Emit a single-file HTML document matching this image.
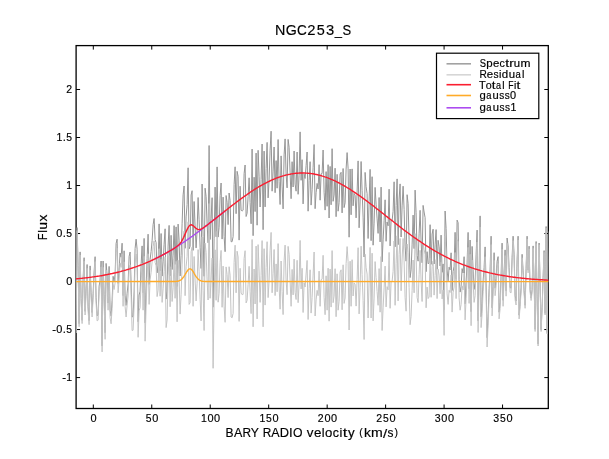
<!DOCTYPE html>
<html><head><meta charset="utf-8"><style>
html,body{margin:0;padding:0;background:#fff;width:609px;height:459px;overflow:hidden}
svg{display:block;will-change:transform}
text{font-family:"Liberation Sans",sans-serif;fill:#000;stroke:#000;stroke-width:0.16}
</style></head><body>
<svg width="609" height="459" viewBox="0 0 609 459">
<defs><clipPath id="c"><rect x="76.1" y="45.6" width="472.2" height="362.9"/></clipPath></defs>
<path d="M93.30,408.50v-4M93.30,45.60v4M151.76,408.50v-4M151.76,45.60v4M210.23,408.50v-4M210.23,45.60v4M268.69,408.50v-4M268.69,45.60v4M327.16,408.50v-4M327.16,45.60v4M385.62,408.50v-4M385.62,45.60v4M444.09,408.50v-4M444.09,45.60v4M502.56,408.50v-4M502.56,45.60v4M76.10,377.58h4M548.30,377.58h-4M76.10,329.56h4M548.30,329.56h-4M76.10,281.55h4M548.30,281.55h-4M76.10,233.54h4M548.30,233.54h-4M76.10,185.52h4M548.30,185.52h-4M76.10,137.50h4M548.30,137.50h-4M76.10,89.49h4M548.30,89.49h-4" stroke="#000" stroke-width="1" fill="none"/>
<rect x="76.1" y="45.6" width="472.2" height="362.9" fill="none" stroke="#000" stroke-width="1.3"/>
<g clip-path="url(#c)" fill="none" stroke-linejoin="round">
<path d="M73.1,279.1 74.1,287.7 75.1,319.0 76.1,330.3 77.1,227.6 78.1,265.5 79.1,323.7 80.1,251.9 81.1,298.5 82.1,320.3 83.1,278.5 84.1,257.7 85.1,311.4 86.1,288.1 87.1,264.5 88.1,306.9 89.1,320.6 90.1,265.9 91.1,292.8 92.1,312.5 93.1,293.3 94.1,272.1 95.1,256.7 96.1,297.5 97.1,315.7 98.1,314.8 99.1,286.1 100.1,280.1 101.1,261.0 102.1,345.9 103.1,261.0 104.1,294.2 105.1,332.7 106.1,263.4 107.1,274.5 108.1,303.0 109.1,266.4 110.1,310.2 111.1,316.0 112.1,300.3 113.1,276.3 114.1,281.1 115.1,274.2 116.1,243.4 117.1,239.2 118.1,283.4 119.1,270.4 120.1,253.0 121.1,257.2 122.1,243.2 123.1,295.6 124.1,250.8 125.1,295.2 126.1,305.4 127.1,293.3 128.1,283.8 129.1,256.4 130.1,252.0 131.1,282.3 132.1,317.0 133.1,316.4 134.1,291.9 135.1,248.5 136.1,239.2 137.1,249.2 138.1,321.8 139.1,295.0 140.1,291.2 141.1,264.9 142.1,245.9 143.1,292.7 144.1,238.4 145.1,322.9 146.1,288.2 147.1,258.4 148.1,234.2 149.1,284.4 150.1,259.4 151.1,251.6 152.1,240.7 153.1,224.7 154.1,218.5 155.1,239.6 156.1,242.6 157.1,272.9 158.1,265.8 159.1,223.9 160.1,271.0 161.1,233.5 162.1,276.1 163.1,261.9 164.1,244.2 165.1,228.8 166.1,299.1 167.1,291.0 168.1,246.1 169.1,225.4 170.1,276.0 171.1,235.3 172.1,269.5 173.1,255.1 174.1,225.6 175.1,264.4 176.1,226.9 177.1,286.5 178.1,224.1 179.1,240.2 180.1,276.0 181.1,255.3 182.1,223.8 183.1,194.9 184.1,186.0 185.1,248.3 186.1,216.9 187.1,204.5 188.1,167.8 189.1,248.9 190.1,246.3 191.1,195.0 192.1,190.7 193.1,250.4 194.1,201.5 195.1,226.0 196.1,247.9 197.1,230.8 198.1,197.5 199.1,219.8 200.1,247.2 201.1,268.5 202.1,184.0 203.1,236.5 204.1,276.3 205.1,188.2 206.1,196.6 207.1,224.2 208.1,242.8 209.1,145.5 210.1,239.5 211.1,218.5 212.1,197.7 213.1,307.2 214.1,238.2 215.1,187.1 216.1,236.8 217.1,166.9 218.1,237.1 219.1,227.3 220.1,195.6 221.1,183.0 222.1,239.1 223.1,197.1 224.1,236.3 225.1,251.7 226.1,195.5 227.1,202.4 228.1,224.6 229.1,193.0 230.1,200.6 231.1,241.7 232.1,241.7 233.1,236.7 234.1,184.7 235.1,166.8 236.1,213.7 237.1,171.3 238.1,176.3 239.1,240.1 240.1,186.2 241.1,210.2 242.1,211.1 243.1,210.2 244.1,173.6 245.1,165.0 246.1,216.5 247.1,213.3 248.1,196.5 249.1,177.8 250.1,202.6 251.1,223.8 252.1,149.1 253.1,235.7 254.1,177.2 255.1,211.6 256.1,153.1 257.1,225.2 258.1,150.3 259.1,176.2 260.1,207.0 261.1,179.5 262.1,144.0 263.1,229.7 264.1,151.1 265.1,206.9 266.1,168.5 267.1,142.4 268.1,197.9 269.1,180.3 270.1,150.2 271.1,131.2 272.1,191.2 273.1,171.1 274.1,147.0 275.1,192.7 276.1,160.6 277.1,188.2 278.1,139.5 279.1,181.7 280.1,204.5 281.1,155.9 282.1,186.1 283.1,208.9 284.1,154.9 285.1,138.9 286.1,174.4 287.1,187.9 288.1,139.4 289.1,147.2 290.1,172.9 291.1,198.7 292.1,161.7 293.1,187.0 294.1,151.0 295.1,184.1 296.1,191.2 297.1,152.0 298.1,194.3 299.1,175.7 300.1,131.9 301.1,180.3 302.1,159.7 303.1,203.9 304.1,174.1 305.1,178.5 306.1,165.6 307.1,152.0 308.1,211.2 309.1,180.5 310.1,161.7 311.1,205.1 312.1,189.7 313.1,167.3 314.1,144.5 315.1,208.7 316.1,192.8 317.1,183.4 318.1,189.0 319.1,164.7 320.1,200.2 321.1,173.8 322.1,173.5 323.1,150.0 324.1,192.2 325.1,210.1 326.1,171.6 327.1,206.3 328.1,164.7 329.1,218.0 330.1,166.4 331.1,204.8 332.1,148.7 333.1,201.3 334.1,195.1 335.1,168.2 336.1,216.7 337.1,174.3 338.1,211.2 339.1,202.7 340.1,174.0 341.1,172.3 342.1,212.9 343.1,168.5 344.1,207.6 345.1,202.8 346.1,169.1 347.1,152.6 348.1,168.2 349.1,237.2 350.1,169.0 351.1,214.8 352.1,168.9 353.1,205.8 354.1,193.4 355.1,195.3 356.1,217.9 357.1,192.1 358.1,160.9 359.1,227.8 360.1,201.9 361.1,161.5 362.1,190.7 363.1,217.1 364.1,257.0 365.1,172.4 366.1,186.7 367.1,193.7 368.1,238.5 369.1,201.5 370.1,169.4 371.1,240.7 372.1,176.7 373.1,245.2 374.1,223.1 375.1,187.4 376.1,204.2 377.1,218.9 378.1,233.4 379.1,197.5 380.1,241.9 381.1,187.1 382.1,261.8 383.1,239.9 384.1,220.8 385.1,199.8 386.1,241.3 387.1,222.0 388.1,225.8 389.1,189.2 390.1,245.9 391.1,220.3 392.1,220.5 393.1,211.3 394.1,181.8 395.1,246.8 396.1,205.5 397.1,178.9 398.1,244.7 399.1,199.1 400.1,183.9 401.1,237.0 402.1,205.9 403.1,186.2 404.1,209.3 405.1,246.9 406.1,261.2 407.1,194.7 408.1,203.7 409.1,239.8 410.1,277.6 411.1,269.9 412.1,244.9 413.1,215.1 414.1,248.6 415.1,190.1 416.1,212.8 417.1,255.4 418.1,261.2 419.1,233.8 420.1,210.3 421.1,241.8 422.1,262.8 423.1,205.4 424.1,212.0 425.1,217.7 426.1,271.7 427.1,251.7 428.1,263.8 429.1,262.9 430.1,224.7 431.1,264.4 432.1,234.0 433.1,229.2 434.1,264.0 435.1,244.9 436.1,229.6 437.1,269.2 438.1,240.3 439.1,246.8 440.1,266.0 441.1,235.1 442.1,272.3 443.1,263.9 444.1,309.8 445.1,211.0 446.1,228.4 447.1,269.9 448.1,280.9 449.1,267.2 450.1,269.9 451.1,252.8 452.1,290.5 453.1,271.4 454.1,266.3 455.1,232.3 456.1,278.8 457.1,220.1 458.1,222.6 459.1,279.3 460.1,292.1 461.1,286.7 462.1,268.6 463.1,273.0 464.1,256.7 465.1,303.8 466.1,282.7 467.1,262.7 468.1,232.4 469.1,288.7 470.1,240.0 471.1,311.7 472.1,246.4 473.1,269.5 474.1,289.4 475.1,283.1 476.1,254.9 477.1,230.1 478.1,320.8 479.1,270.7 480.1,215.9 481.1,316.7 482.1,303.1 483.1,281.2 484.1,267.7 485.1,246.9 486.1,283.6 487.1,337.7 488.1,316.1 489.1,288.5 490.1,269.3 491.1,236.2 492.1,307.8 493.1,286.3 494.1,252.7 495.1,288.2 496.1,278.5 497.1,261.2 498.1,256.6 499.1,312.2 500.1,302.3 501.1,274.7 502.1,243.1 503.1,300.3 504.1,271.0 505.1,249.9 506.1,290.8 507.1,238.0 508.1,245.9 509.1,267.7 510.1,287.6 511.1,288.1 512.1,257.3 513.1,236.2 514.1,254.8 515.1,295.6 516.1,301.0 517.1,259.7 518.1,236.2 519.1,315.2 520.1,303.0 521.1,287.6 522.1,254.3 523.1,270.2 524.1,290.3 525.1,305.3 526.1,268.4 527.1,236.2 528.1,270.2 529.1,246.2 530.1,289.5 531.1,298.0 532.1,289.7 533.1,245.9 534.1,280.5 535.1,329.3 536.1,241.5 537.1,296.8 538.1,344.0 539.1,243.0 540.1,282.6 541.1,329.7 542.1,307.3 543.1,277.7 544.1,250.6 545.1,313.4 546.1,226.5 547.1,332.5 548.1,279.0 549.1,231.0 550.1,264.3 551.1,280.3" stroke="#969696" stroke-width="1"/>
<path d="M73.1,281.6 74.1,290.3 75.1,321.6 76.1,333.0 77.1,230.5 78.1,268.4 79.1,326.7 80.1,255.0 81.1,301.6 82.1,323.6 83.1,281.9 84.1,261.2 85.1,315.0 86.1,291.9 87.1,268.3 88.1,310.9 89.1,324.7 90.1,270.1 91.1,297.2 92.1,317.0 93.1,297.9 94.1,276.9 95.1,261.6 96.1,302.6 97.1,320.9 98.1,320.2 99.1,291.6 100.1,285.8 101.1,266.9 102.1,351.9 103.1,267.3 104.1,300.6 105.1,339.3 106.1,270.2 107.1,281.4 108.1,310.2 109.1,273.8 110.1,317.8 111.1,323.8 112.1,308.3 113.1,284.5 114.1,289.5 115.1,282.9 116.1,252.3 117.1,248.4 118.1,292.8 119.1,280.1 120.1,262.9 121.1,267.4 122.1,253.7 123.1,306.3 124.1,261.8 125.1,306.5 126.1,317.0 127.1,305.2 128.1,296.0 129.1,268.9 130.1,264.8 131.1,295.4 132.1,330.5 133.1,330.2 134.1,306.0 135.1,262.9 136.1,254.0 137.1,264.4 138.1,337.3 139.1,310.9 140.1,307.5 141.1,281.6 142.1,263.0 143.1,310.2 144.1,256.3 145.1,341.2 146.1,306.9 147.1,277.5 148.1,253.8 149.1,304.4 150.1,279.8 151.1,272.5 152.1,262.1 153.1,246.5 154.1,240.8 155.1,262.4 156.1,265.8 157.1,296.6 158.1,290.1 159.1,248.7 160.1,296.2 161.1,259.3 162.1,302.4 163.1,288.8 164.1,271.6 165.1,256.8 166.1,327.6 167.1,320.0 168.1,275.8 169.1,255.6 170.1,306.8 171.1,266.7 172.1,301.5 173.1,287.6 174.1,258.8 175.1,298.3 176.1,261.4 177.1,321.8 178.1,260.2 179.1,277.2 180.1,314.1 181.1,294.8 182.1,264.9 183.1,237.8 184.1,231.1 185.1,295.7 186.1,266.7 187.1,256.5 188.1,221.8 189.1,304.4 190.1,302.8 191.1,251.7 192.1,247.2 193.1,306.3 194.1,256.5 195.1,280.0 196.1,301.0 197.1,283.2 198.1,249.6 199.1,271.7 200.1,299.3 201.1,320.9 202.1,236.9 203.1,290.1 204.1,330.5 205.1,243.1 206.1,252.3 207.1,280.7 208.1,300.0 209.1,203.5 210.1,298.3 211.1,278.0 212.1,258.1 213.1,368.3 214.1,300.2 215.1,249.8 216.1,300.3 217.1,231.2 218.1,302.2 219.1,293.2 220.1,262.3 221.1,250.4 222.1,307.3 223.1,266.1 224.1,306.1 225.1,322.3 226.1,266.9 227.1,274.6 228.1,297.6 229.1,266.7 230.1,275.1 231.1,317.0 232.1,317.8 233.1,313.5 234.1,262.3 235.1,245.2 236.1,292.8 237.1,251.2 238.1,257.0 239.1,321.4 240.1,268.3 241.1,293.0 242.1,294.7 243.1,294.4 244.1,258.6 245.1,250.7 246.1,302.9 247.1,300.4 248.1,284.3 249.1,266.3 250.1,291.8 251.1,313.6 252.1,239.5 253.1,326.8 254.1,269.0 255.1,304.0 256.1,246.1 257.1,318.9 258.1,244.6 259.1,271.1 260.1,302.4 261.1,275.5 262.1,240.6 263.1,326.8 264.1,248.7 265.1,305.1 266.1,267.3 267.1,241.7 268.1,297.6 269.1,280.5 270.1,250.9 271.1,232.4 272.1,292.8 273.1,273.2 274.1,249.5 275.1,295.6 276.1,263.9 277.1,291.8 278.1,243.6 279.1,286.1 280.1,309.2 281.1,261.0 282.1,291.5 283.1,314.6 284.1,260.9 285.1,245.1 286.1,280.9 287.1,294.7 288.1,246.4 289.1,254.4 290.1,280.3 291.1,306.3 292.1,269.4 293.1,294.9 294.1,259.1 295.1,292.2 296.1,299.5 297.1,260.3 298.1,302.7 299.1,284.1 300.1,240.4 301.1,288.9 302.1,268.3 303.1,312.5 304.1,282.7 305.1,287.0 306.1,274.0 307.1,260.4 308.1,319.5 309.1,288.7 310.1,269.8 311.1,313.1 312.1,297.6 313.1,275.0 314.1,252.0 315.1,316.0 316.1,299.9 317.1,290.3 318.1,295.7 319.1,271.1 320.1,306.3 321.1,279.7 322.1,279.1 323.1,255.3 324.1,297.2 325.1,314.7 326.1,275.8 327.1,310.2 328.1,268.2 329.1,321.2 330.1,269.1 331.1,307.1 332.1,250.6 333.1,302.7 334.1,296.1 335.1,268.7 336.1,316.7 337.1,273.8 338.1,310.2 339.1,301.2 340.1,272.0 341.1,269.8 342.1,309.8 343.1,264.8 344.1,303.4 345.1,298.0 346.1,263.7 347.1,246.6 348.1,261.6 349.1,330.0 350.1,261.2 351.1,306.3 352.1,259.7 353.1,296.0 354.1,282.9 355.1,284.2 356.1,306.1 357.1,279.6 358.1,247.7 359.1,313.9 360.1,287.3 361.1,246.2 362.1,274.6 363.1,300.4 364.1,339.5 365.1,254.2 366.1,267.8 367.1,274.0 368.1,318.0 369.1,280.3 370.1,247.4 371.1,318.0 372.1,253.2 373.1,320.9 374.1,298.1 375.1,261.6 376.1,277.6 377.1,291.6 378.1,305.3 379.1,268.6 380.1,312.2 381.1,256.6 382.1,330.5 383.1,307.8 384.1,287.9 385.1,266.1 386.1,306.9 387.1,286.7 388.1,289.8 389.1,252.4 390.1,308.3 391.1,281.9 392.1,281.3 393.1,271.4 394.1,241.0 395.1,305.3 396.1,263.2 397.1,235.8 398.1,300.9 399.1,254.5 400.1,238.5 401.1,290.8 402.1,259.0 403.1,238.5 404.1,260.9 405.1,297.7 406.1,311.2 407.1,244.0 408.1,252.3 409.1,287.6 410.1,324.7 411.1,316.3 412.1,290.5 413.1,260.0 414.1,292.8 415.1,233.6 416.1,255.6 417.1,297.5 418.1,302.6 419.1,274.5 420.1,250.3 421.1,281.2 422.1,301.5 423.1,243.5 424.1,249.4 425.1,254.4 426.1,307.8 427.1,287.1 428.1,298.6 429.1,297.0 430.1,258.2 431.1,297.3 432.1,266.3 433.1,260.9 434.1,295.1 435.1,275.4 436.1,259.5 437.1,298.6 438.1,269.1 439.1,275.1 440.1,293.7 441.1,262.3 442.1,298.9 443.1,290.0 444.1,335.4 445.1,236.1 446.1,253.0 447.1,293.9 448.1,304.4 449.1,290.3 450.1,292.5 451.1,274.9 452.1,312.1 453.1,292.5 454.1,287.0 455.1,252.5 456.1,298.6 457.1,239.5 458.1,241.6 459.1,297.8 460.1,310.2 461.1,304.4 462.1,285.9 463.1,289.9 464.1,273.2 465.1,319.9 466.1,298.5 467.1,278.1 468.1,247.4 469.1,303.4 470.1,254.4 471.1,325.7 472.1,260.1 473.1,282.8 474.1,302.4 475.1,295.8 476.1,267.3 477.1,242.1 478.1,332.5 479.1,282.2 480.1,227.1 481.1,327.6 482.1,313.7 483.1,291.5 484.1,277.8 485.1,256.7 486.1,293.2 487.1,347.0 488.1,325.1 489.1,297.4 490.1,277.8 491.1,244.6 492.1,315.9 493.1,294.2 494.1,260.4 495.1,295.7 496.1,285.8 497.1,268.2 498.1,263.5 499.1,318.9 500.1,308.8 501.1,281.0 502.1,249.2 503.1,306.3 504.1,276.8 505.1,255.5 506.1,296.2 507.1,243.3 508.1,251.1 509.1,272.7 510.1,292.4 511.1,292.8 512.1,261.9 513.1,240.6 514.1,259.1 515.1,299.8 516.1,305.0 517.1,263.6 518.1,240.0 519.1,318.9 520.1,306.6 521.1,291.1 522.1,257.7 523.1,273.5 524.1,293.5 525.1,308.3 526.1,271.4 527.1,239.1 528.1,272.9 529.1,248.9 530.1,292.1 531.1,300.5 532.1,292.1 533.1,248.3 534.1,282.7 535.1,331.5 536.1,243.6 537.1,298.9 538.1,346.0 539.1,244.9 540.1,284.5 541.1,331.5 542.1,309.0 543.1,279.4 544.1,252.3 545.1,315.0 546.1,228.0 547.1,334.0 548.1,280.4 549.1,232.4 550.1,265.6 551.1,281.6" stroke="#c4c4c4" stroke-width="1"/>
<path d="M73.8,281.6 160.7,281.5 161.2,281.5 161.7,281.5 162.2,281.5 162.7,281.5 163.2,281.5 163.7,281.5 164.2,281.5 164.7,281.5 165.2,281.5 165.6,281.5 166.1,281.5 166.6,281.5 167.1,281.5 167.6,281.5 168.1,281.5 168.6,281.5 169.1,281.5 169.6,281.5 170.1,281.5 170.6,281.5 171.1,281.5 171.5,281.5 172.0,281.5 172.5,281.5 173.0,281.5 173.5,281.5 174.0,281.5 174.5,281.5 175.0,281.5 175.5,281.5 176.0,281.4 176.5,281.4 176.9,281.4 177.4,281.3 177.9,281.2 178.4,281.1 178.9,280.9 179.4,280.7 179.9,280.5 180.4,280.2 180.9,279.9 181.4,279.5 181.9,279.0 182.4,278.5 182.8,277.9 183.3,277.3 183.8,276.6 184.3,275.8 184.8,275.0 185.3,274.1 185.8,273.3 186.3,272.5 186.8,271.7 187.3,271.0 187.8,270.3 188.2,269.8 188.7,269.3 189.2,269.0 189.7,268.9 190.2,268.9 190.7,269.0 191.2,269.3 191.7,269.8 192.2,270.3 192.7,271.0 193.2,271.7 193.7,272.5 194.1,273.3 194.6,274.1 195.1,275.0 195.6,275.8 196.1,276.6 196.6,277.3 197.1,277.9 197.6,278.5 198.1,279.0 198.6,279.5 199.1,279.9 199.5,280.2 200.0,280.5 200.5,280.7 201.0,280.9 201.5,281.1 202.0,281.2 202.5,281.3 203.0,281.4 203.5,281.4 204.0,281.4 204.5,281.5 205.0,281.5 205.4,281.5 205.9,281.5 206.4,281.5 206.9,281.5 207.4,281.5 207.9,281.5 208.4,281.5 208.9,281.5 209.4,281.5 209.9,281.5 210.4,281.5 210.8,281.5 211.3,281.5 211.8,281.5 212.3,281.5 212.8,281.5 213.3,281.5 213.8,281.5 214.3,281.5 214.8,281.5 215.3,281.5 215.8,281.5 216.3,281.5 216.7,281.5 217.2,281.5 217.7,281.5 218.2,281.5 218.7,281.5 219.2,281.5 550.6,281.6" stroke="#ffab28" stroke-width="1.4" stroke-linejoin="round"/>
<path d="M154.9,258.9 155.8,258.5 156.7,258.0 157.6,257.6 158.4,257.1 159.3,256.7 160.2,256.2 161.1,255.8 162.0,255.3 162.9,254.8 163.8,254.3 164.7,253.9 165.5,253.4 166.4,252.9 167.3,252.4 168.2,251.9 169.1,251.4 170.0,250.8 170.9,250.3 171.8,249.8 172.6,249.3 173.5,248.7 174.4,248.2 175.3,247.6 176.2,247.1 177.1,246.5 178.0,245.9 178.9,245.4 179.8,244.8 180.6,244.2 181.5,243.6 182.4,243.0 183.3,242.5 184.2,241.9 185.1,241.3 186.0,240.6 186.9,240.0 187.7,239.4 188.6,238.8 189.5,238.2 190.4,237.5 191.3,236.9 192.2,236.3 193.1,235.6 194.0,235.0 194.9,234.3 195.7,233.7 196.6,233.0 197.5,232.4 198.4,231.7 199.3,231.1 200.2,230.4 201.1,229.7 202.0,229.0 202.8,228.4 203.7,227.7 204.6,227.0 205.5,226.3 206.4,225.6 207.3,225.0 208.2,224.3 209.1,223.6 209.9,222.9 210.8,222.2 211.7,221.5 212.6,220.8 213.5,220.1 214.4,219.4 215.3,218.7 216.2,218.0 217.1,217.3 217.9,216.6 218.8,215.9 219.7,215.2 220.6,214.5 221.5,213.8 222.4,213.1 223.3,212.4 224.2,211.7 225.0,211.0" stroke="#ac4cf0" stroke-width="1.4" stroke-linejoin="round"/>
<path d="M73.8,279.0 75.0,278.9 76.2,278.8 77.3,278.7 78.5,278.6 79.7,278.5 80.9,278.4 82.1,278.3 83.3,278.1 84.5,278.0 85.7,277.9 86.9,277.7 88.1,277.6 89.3,277.4 90.5,277.3 91.7,277.1 92.9,276.9 94.1,276.8 95.3,276.6 96.5,276.4 97.7,276.2 98.9,276.1 100.1,275.9 101.3,275.7 102.4,275.5 103.6,275.2 104.8,275.0 106.0,274.8 107.2,274.6 108.4,274.3 109.6,274.1 110.8,273.8 112.0,273.6 113.2,273.3 114.4,273.0 115.6,272.8 116.8,272.5 118.0,272.2 119.2,271.9 120.4,271.6 121.6,271.2 122.8,270.9 124.0,270.6 125.2,270.2 126.3,269.9 127.5,269.5 128.7,269.2 129.9,268.8 131.1,268.4 132.3,268.0 133.5,267.6 134.7,267.2 135.9,266.8 137.1,266.4 138.3,265.9 139.5,265.5 140.7,265.0 141.9,264.6 143.1,264.1 144.3,263.6 145.5,263.1 146.7,262.6 147.9,262.1 149.1,261.6 150.3,261.1 151.4,260.5 152.6,260.0 153.8,259.4 155.0,258.8 156.2,258.2 157.4,257.7 158.6,257.1 159.8,256.4 161.0,255.8 162.2,255.2 163.4,254.5 164.6,253.9 165.8,253.2 167.0,252.6 168.2,251.9 169.4,251.2 170.6,250.5 171.8,249.8 173.0,249.1 174.2,248.3 175.4,247.5 176.5,246.7 177.7,245.8 178.9,244.7 180.1,243.4 181.3,241.8 182.5,239.7 183.7,237.3 184.9,234.6 186.1,231.8 187.3,229.1 188.5,226.9 189.7,225.4 190.9,224.8 192.1,225.0 193.3,225.8 194.5,226.9 195.7,228.1 196.9,228.9 198.1,229.5 199.3,229.6 200.5,229.3 201.6,228.8 202.8,228.2 204.0,227.4 205.2,226.5 206.4,225.6 207.6,224.7 208.8,223.8 210.0,222.8 211.2,221.9 212.4,221.0 213.6,220.0 214.8,219.1 216.0,218.1 217.2,217.2 218.4,216.3 219.6,215.3 220.8,214.4 222.0,213.4 223.2,212.5 224.4,211.5 225.5,210.6 226.7,209.7 227.9,208.7 229.1,207.8 230.3,206.9 231.5,205.9 232.7,205.0 233.9,204.1 235.1,203.2 236.3,202.3 237.5,201.4 238.7,200.5 239.9,199.6 241.1,198.7 242.3,197.9 243.5,197.0 244.7,196.1 245.9,195.3 247.1,194.5 248.3,193.6 249.5,192.8 250.6,192.0 251.8,191.2 253.0,190.5 254.2,189.7 255.4,188.9 256.6,188.2 257.8,187.5 259.0,186.7 260.2,186.0 261.4,185.4 262.6,184.7 263.8,184.0 265.0,183.4 266.2,182.8 267.4,182.2 268.6,181.6 269.8,181.0 271.0,180.4 272.2,179.9 273.4,179.4 274.6,178.9 275.7,178.4 276.9,177.9 278.1,177.5 279.3,177.1 280.5,176.7 281.7,176.3 282.9,175.9 284.1,175.6 285.3,175.2 286.5,174.9 287.7,174.7 288.9,174.4 290.1,174.2 291.3,173.9 292.5,173.8 293.7,173.6 294.9,173.4 296.1,173.3 297.3,173.2 298.5,173.1 299.7,173.0 300.8,173.0 302.0,173.0 303.2,173.0 304.4,173.0 305.6,173.1 306.8,173.1 308.0,173.2 309.2,173.4 310.4,173.5 311.6,173.6 312.8,173.8 314.0,174.0 315.2,174.3 316.4,174.5 317.6,174.8 318.8,175.1 320.0,175.4 321.2,175.7 322.4,176.1 323.6,176.4 324.7,176.8 325.9,177.2 327.1,177.7 328.3,178.1 329.5,178.6 330.7,179.1 331.9,179.6 333.1,180.1 334.3,180.7 335.5,181.2 336.7,181.8 337.9,182.4 339.1,183.0 340.3,183.7 341.5,184.3 342.7,185.0 343.9,185.6 345.1,186.3 346.3,187.0 347.5,187.8 348.7,188.5 349.8,189.2 351.0,190.0 352.2,190.8 353.4,191.6 354.6,192.4 355.8,193.2 357.0,194.0 358.2,194.8 359.4,195.6 360.6,196.5 361.8,197.4 363.0,198.2 364.2,199.1 365.4,200.0 366.6,200.9 367.8,201.8 369.0,202.7 370.2,203.6 371.4,204.5 372.6,205.4 373.8,206.3 374.9,207.2 376.1,208.2 377.3,209.1 378.5,210.0 379.7,211.0 380.9,211.9 382.1,212.9 383.3,213.8 384.5,214.7 385.7,215.7 386.9,216.6 388.1,217.6 389.3,218.5 390.5,219.5 391.7,220.4 392.9,221.3 394.1,222.3 395.3,223.2 396.5,224.1 397.7,225.1 398.9,226.0 400.0,226.9 401.2,227.8 402.4,228.7 403.6,229.7 404.8,230.6 406.0,231.5 407.2,232.3 408.4,233.2 409.6,234.1 410.8,235.0 412.0,235.8 413.2,236.7 414.4,237.6 415.6,238.4 416.8,239.2 418.0,240.1 419.2,240.9 420.4,241.7 421.6,242.5 422.8,243.3 423.9,244.1 425.1,244.9 426.3,245.6 427.5,246.4 428.7,247.2 429.9,247.9 431.1,248.6 432.3,249.4 433.5,250.1 434.7,250.8 435.9,251.5 437.1,252.2 438.3,252.8 439.5,253.5 440.7,254.2 441.9,254.8 443.1,255.4 444.3,256.1 445.5,256.7 446.7,257.3 447.9,257.9 449.0,258.5 450.2,259.1 451.4,259.6 452.6,260.2 453.8,260.7 455.0,261.3 456.2,261.8 457.4,262.3 458.6,262.8 459.8,263.3 461.0,263.8 462.2,264.3 463.4,264.8 464.6,265.2 465.8,265.7 467.0,266.1 468.2,266.5 469.4,267.0 470.6,267.4 471.8,267.8 473.0,268.2 474.1,268.6 475.3,269.0 476.5,269.3 477.7,269.7 478.9,270.0 480.1,270.4 481.3,270.7 482.5,271.1 483.7,271.4 484.9,271.7 486.1,272.0 487.3,272.3 488.5,272.6 489.7,272.9 490.9,273.1 492.1,273.4 493.3,273.7 494.5,273.9 495.7,274.2 496.9,274.4 498.1,274.7 499.2,274.9 500.4,275.1 501.6,275.3 502.8,275.5 504.0,275.7 505.2,275.9 506.4,276.1 507.6,276.3 508.8,276.5 510.0,276.7 511.2,276.9 512.4,277.0 513.6,277.2 514.8,277.3 516.0,277.5 517.2,277.6 518.4,277.8 519.6,277.9 520.8,278.0 522.0,278.2 523.1,278.3 524.3,278.4 525.5,278.5 526.7,278.7 527.9,278.8 529.1,278.9 530.3,279.0 531.5,279.1 532.7,279.2 533.9,279.3 535.1,279.4 536.3,279.4 537.5,279.5 538.7,279.6 539.9,279.7 541.1,279.8 542.3,279.8 543.5,279.9 544.7,280.0 545.9,280.0 547.1,280.1 548.2,280.2 549.4,280.2 550.6,280.3" stroke="#fa1e30" stroke-width="1.4" stroke-linejoin="round"/>
</g>
<g transform="translate(0,421.60)"><text transform="translate(90.55,0.04) scale(1.0963,1.0683)" font-size="10">0</text></g>
<g transform="translate(0,421.60)"><text transform="translate(145.84,0.04) scale(1.0346,1.0651)" font-size="10">5</text><text transform="translate(152.32,0.04) scale(1.0963,1.0683)" font-size="10">0</text></g>
<g transform="translate(0,421.60)"><text transform="translate(200.95,0.00) scale(1.0471,1.0596)" font-size="10">1</text><text transform="translate(207.48,0.04) scale(1.0963,1.0683)" font-size="10">0</text><text transform="translate(214.10,0.04) scale(1.0963,1.0683)" font-size="10">0</text></g>
<g transform="translate(0,421.60)"><text transform="translate(259.41,0.00) scale(1.0471,1.0596)" font-size="10">1</text><text transform="translate(266.07,0.04) scale(1.0346,1.0651)" font-size="10">5</text><text transform="translate(272.56,0.04) scale(1.0963,1.0683)" font-size="10">0</text></g>
<g transform="translate(0,421.60)"><text transform="translate(317.77,0.00) scale(1.0567,1.0629)" font-size="10">2</text><text transform="translate(324.41,0.04) scale(1.0963,1.0683)" font-size="10">0</text><text transform="translate(331.03,0.04) scale(1.0963,1.0683)" font-size="10">0</text></g>
<g transform="translate(0,421.60)"><text transform="translate(376.23,0.00) scale(1.0567,1.0629)" font-size="10">2</text><text transform="translate(383.00,0.04) scale(1.0346,1.0651)" font-size="10">5</text><text transform="translate(389.49,0.04) scale(1.0963,1.0683)" font-size="10">0</text></g>
<g transform="translate(0,421.60)"><text transform="translate(434.86,0.04) scale(1.0529,1.0683)" font-size="10">3</text><text transform="translate(441.34,0.04) scale(1.0963,1.0683)" font-size="10">0</text><text transform="translate(447.96,0.04) scale(1.0963,1.0683)" font-size="10">0</text></g>
<g transform="translate(0,421.60)"><text transform="translate(493.32,0.04) scale(1.0529,1.0683)" font-size="10">3</text><text transform="translate(499.93,0.04) scale(1.0346,1.0651)" font-size="10">5</text><text transform="translate(506.42,0.04) scale(1.0963,1.0683)" font-size="10">0</text></g><g transform="translate(0,381.38)"><text transform="translate(62.24,-0.02) scale(1.1211,1.0250)" font-size="10">-</text><text transform="translate(66.33,0.00) scale(1.0471,1.0596)" font-size="10">1</text></g>
<g transform="translate(0,333.37)"><text transform="translate(52.32,-0.02) scale(1.1211,1.0250)" font-size="10">-</text><text transform="translate(56.32,0.04) scale(1.0963,1.0683)" font-size="10">0</text><text transform="translate(62.76,0.00) scale(1.1253,1.1598)" font-size="10">.</text><text transform="translate(66.37,0.04) scale(1.0346,1.0651)" font-size="10">5</text></g>
<g transform="translate(0,285.35)"><text transform="translate(66.24,0.04) scale(1.0963,1.0683)" font-size="10">0</text></g>
<g transform="translate(0,237.34)"><text transform="translate(56.32,0.04) scale(1.0963,1.0683)" font-size="10">0</text><text transform="translate(62.76,0.00) scale(1.1253,1.1598)" font-size="10">.</text><text transform="translate(66.37,0.04) scale(1.0346,1.0651)" font-size="10">5</text></g>
<g transform="translate(0,189.32)"><text transform="translate(66.33,0.00) scale(1.0471,1.0596)" font-size="10">1</text></g>
<g transform="translate(0,141.31)"><text transform="translate(56.41,0.00) scale(1.0471,1.0596)" font-size="10">1</text><text transform="translate(62.76,0.00) scale(1.1253,1.1598)" font-size="10">.</text><text transform="translate(66.37,0.04) scale(1.0346,1.0651)" font-size="10">5</text></g>
<g transform="translate(0,93.29)"><text transform="translate(66.21,0.00) scale(1.0567,1.0629)" font-size="10">2</text></g>
<g transform="translate(0,34.50)"><text transform="translate(274.92,0.00) scale(1.0273,1.0596)" font-size="14">N</text><text transform="translate(285.67,0.05) scale(1.0143,1.0683)" font-size="14">G</text><text transform="translate(296.98,0.05) scale(0.9654,1.0683)" font-size="14">C</text><text transform="translate(307.34,0.00) scale(1.0567,1.0629)" font-size="14">2</text><text transform="translate(316.82,0.05) scale(1.0346,1.0651)" font-size="14">5</text><text transform="translate(326.09,0.05) scale(1.0529,1.0683)" font-size="14">3</text><text transform="translate(334.86,0.24) scale(0.9275,1.1000)" font-size="14">_</text><text transform="translate(342.45,0.05) scale(0.9271,1.0683)" font-size="14">S</text></g>
<g transform="translate(0,436.80)"><text transform="translate(225.54,0.00) scale(1.0044,1.0596)" font-size="12">B</text><text transform="translate(233.90,0.00) scale(1.0414,1.0596)" font-size="12">A</text><text transform="translate(242.55,0.00) scale(0.9887,1.0596)" font-size="12">R</text><text transform="translate(250.64,0.00) scale(1.0200,1.0596)" font-size="12">Y</text><text transform="translate(258.51,0)" font-size="12"> </text><text transform="translate(262.69,0.00) scale(0.9887,1.0596)" font-size="12">R</text><text transform="translate(271.14,0.00) scale(1.0414,1.0596)" font-size="12">A</text><text transform="translate(279.72,0.00) scale(1.0696,1.0596)" font-size="12">D</text><text transform="translate(289.11,0.00) scale(1.0933,1.0596)" font-size="12">I</text><text transform="translate(292.88,0.04) scale(1.0219,1.0683)" font-size="12">O</text><text transform="translate(302.53,0)" font-size="12"> </text><text transform="translate(306.80,0.00) scale(1.1156,1.0351)" font-size="12">v</text><text transform="translate(313.93,0.05) scale(1.1166,1.0481)" font-size="12">e</text><text transform="translate(321.76,0.00) scale(1.0567,1.0485)" font-size="12">l</text><text transform="translate(325.02,0.05) scale(1.0990,1.0481)" font-size="12">o</text><text transform="translate(332.64,0.05) scale(1.0373,1.0481)" font-size="12">c</text><text transform="translate(339.62,0.00) scale(1.0567,1.0485)" font-size="12">i</text><text transform="translate(342.83,-0.10) scale(1.3816,1.0731)" font-size="12">t</text><text transform="translate(347.95,-0.06) scale(1.1101,1.0259)" font-size="12">y</text><text transform="translate(354.95,0)" font-size="12"> </text><text transform="translate(359.31,-0.79) scale(0.8738,0.9560)" font-size="12">(</text><text transform="translate(363.93,0.00) scale(1.1559,1.0485)" font-size="12">k</text><text transform="translate(371.11,0.00) scale(1.1778,1.0408)" font-size="12">m</text><text transform="translate(383.01,0.98) scale(1.2536,1.1190)" font-size="12">/</text><text transform="translate(387.53,0.05) scale(0.9909,1.0509)" font-size="12">s</text><text transform="translate(394.58,-0.79) scale(0.8738,0.9560)" font-size="12">)</text></g>
<g transform="translate(47.20,227.35) rotate(-90)"><g transform="translate(0,0.00)"><text transform="translate(-12.62,0.00) scale(0.8914,1.0596)" font-size="12">F</text><text transform="translate(-5.48,0.00) scale(1.0631,1.0485)" font-size="12">l</text><text transform="translate(-2.14,0.04) scale(1.1213,1.0672)" font-size="12">u</text><text transform="translate(5.79,0.00) scale(1.1537,1.0351)" font-size="12">x</text></g></g>
<rect x="436.5" y="53.2" width="102.3" height="65.4" fill="#fff" stroke="#000" stroke-width="1.2"/>
<path d="M446.50,63.80H471.00" stroke="#a2a2a2" stroke-width="1.6"/><g transform="translate(0,66.60)"><text transform="translate(479.67,0.04) scale(0.9410,1.0683)" font-size="10">S</text><text transform="translate(486.32,-0.06) scale(1.1484,1.0308)" font-size="10">p</text><text transform="translate(492.90,0.04) scale(1.1402,1.0481)" font-size="10">e</text><text transform="translate(499.43,0.04) scale(1.0592,1.0481)" font-size="10">c</text><text transform="translate(505.17,-0.08) scale(1.4108,1.0731)" font-size="10">t</text><text transform="translate(509.30,0.00) scale(1.3525,1.0408)" font-size="10">r</text><text transform="translate(513.74,0.04) scale(1.1381,1.0672)" font-size="10">u</text><text transform="translate(520.43,0.00) scale(1.2027,1.0408)" font-size="10">m</text></g>
<path d="M446.50,74.80H471.00" stroke="#d6d6d6" stroke-width="1.6"/><g transform="translate(0,78.20)"><text transform="translate(479.61,0.00) scale(1.0146,1.0596)" font-size="10">R</text><text transform="translate(486.87,0.04) scale(1.1458,1.0481)" font-size="10">e</text><text transform="translate(493.59,0.04) scale(1.0168,1.0509)" font-size="10">s</text><text transform="translate(499.10,0.00) scale(1.0844,1.0485)" font-size="10">i</text><text transform="translate(501.87,0.04) scale(1.1529,1.0539)" font-size="10">d</text><text transform="translate(508.66,0.04) scale(1.1437,1.0672)" font-size="10">u</text><text transform="translate(515.46,0.04) scale(0.9539,1.0481)" font-size="10">a</text><text transform="translate(522.00,0.00) scale(1.0844,1.0485)" font-size="10">l</text></g>
<path d="M446.50,84.70H471.00" stroke="#fa1e30" stroke-width="1.6"/><g transform="translate(0,88.90)"><text transform="translate(479.12,0.00) scale(1.1003,1.0596)" font-size="10">T</text><text transform="translate(485.67,0.04) scale(1.0724,1.0481)" font-size="10">o</text><text transform="translate(491.80,-0.08) scale(1.3483,1.0731)" font-size="10">t</text><text transform="translate(495.91,0.04) scale(0.9072,1.0481)" font-size="10">a</text><text transform="translate(502.13,0.00) scale(1.0312,1.0485)" font-size="10">l</text><text transform="translate(504.67,0)" font-size="10"> </text><text transform="translate(508.16,0.00) scale(0.8647,1.0596)" font-size="10">F</text><text transform="translate(513.94,0.00) scale(1.0312,1.0485)" font-size="10">i</text><text transform="translate(516.55,-0.08) scale(1.3483,1.0731)" font-size="10">t</text></g>
<path d="M446.50,95.50H471.00" stroke="#ffab28" stroke-width="1.6"/><g transform="translate(0,98.70)"><text transform="translate(479.50,-0.06) scale(1.1303,1.0322)" font-size="10">g</text><text transform="translate(486.23,0.04) scale(0.9352,1.0481)" font-size="10">a</text><text transform="translate(492.53,0.04) scale(1.1213,1.0672)" font-size="10">u</text><text transform="translate(499.25,0.04) scale(0.9969,1.0509)" font-size="10">s</text><text transform="translate(504.67,0.04) scale(0.9969,1.0509)" font-size="10">s</text><text transform="translate(510.06,0.04) scale(1.0963,1.0683)" font-size="10">0</text></g>
<path d="M446.50,107.80H471.00" stroke="#ac4cf0" stroke-width="1.6"/><g transform="translate(0,111.00)"><text transform="translate(479.50,-0.06) scale(1.1416,1.0322)" font-size="10">g</text><text transform="translate(486.30,0.04) scale(0.9446,1.0481)" font-size="10">a</text><text transform="translate(492.66,0.04) scale(1.1325,1.0672)" font-size="10">u</text><text transform="translate(499.45,0.04) scale(1.0069,1.0509)" font-size="10">s</text><text transform="translate(504.92,0.04) scale(1.0069,1.0509)" font-size="10">s</text><text transform="translate(510.46,0.00) scale(1.0575,1.0596)" font-size="10">1</text></g>

</svg>
</body></html>
